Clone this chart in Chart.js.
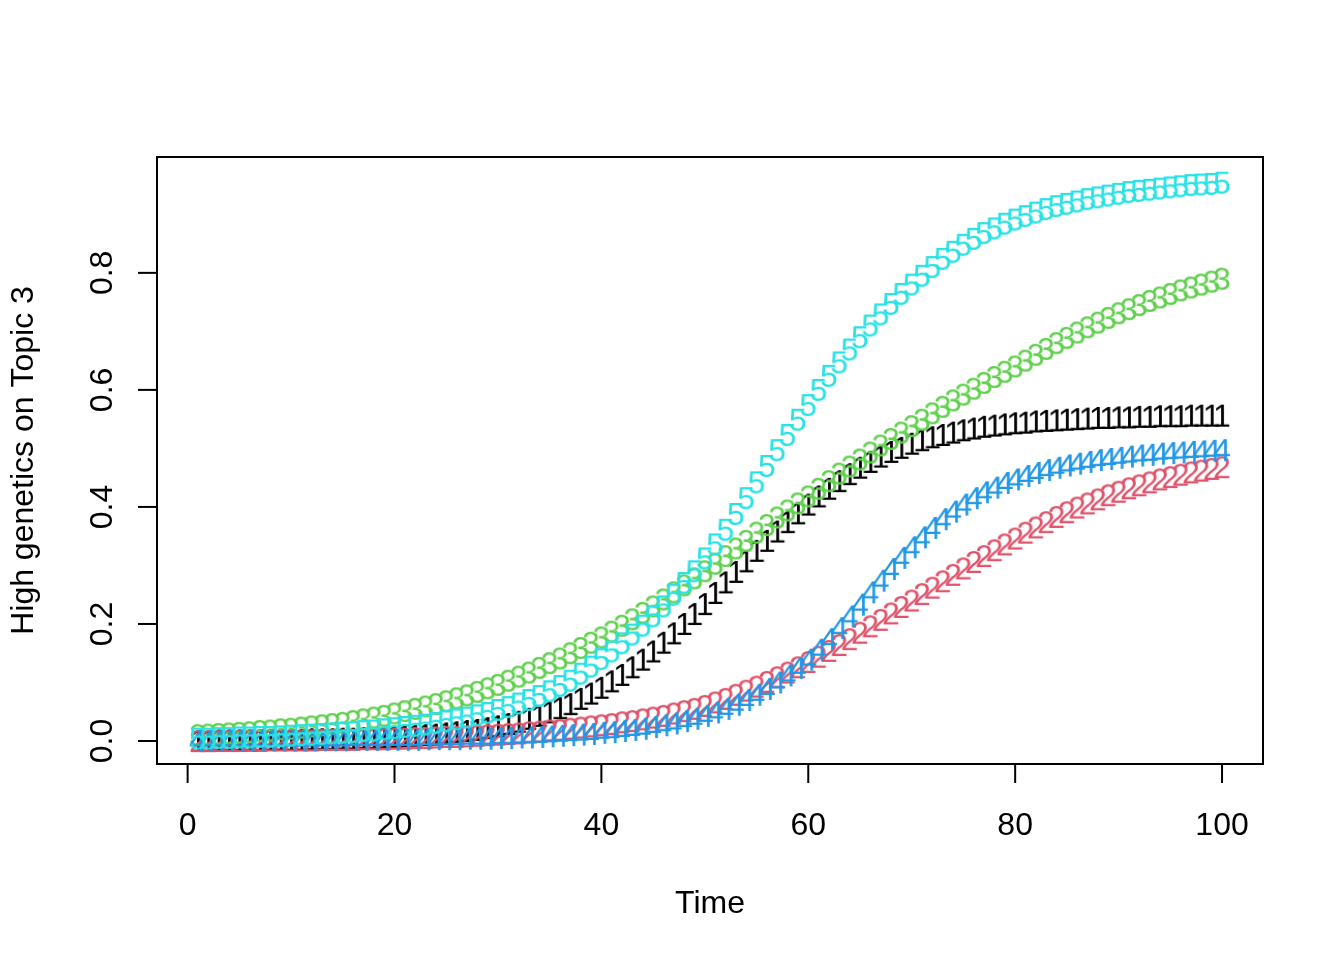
<!DOCTYPE html>
<html>
<head>
<meta charset="utf-8">
<script src="https://cdn.jsdelivr.net/npm/chart.js@4"></script>
<style>
  html, body { margin: 0; padding: 0; background: #fff; }
  #plot { display: block; }
</style>
</head>
<body>
<canvas id="plot" width="1344" height="960"></canvas>
<script>
// time steps 1..100
const timeSteps = Array.from({ length: 100 }, (_, i) => i + 1);

const xTicks = [0, 20, 40, 60, 80, 100];
const yTicks = [0, 0.2, 0.4, 0.6, 0.8];
const yTickLabels = ["0.0", "0.2", "0.4", "0.6", "0.8"];

const seriesNames = ["1", "2", "3", "4", "5"];
const seriesColors = ["#000000", "#DF536B", "#61D04F", "#2297E6", "#28E2E5"];

const series1 = [
  0.000, 0.000, 0.001, 0.001, 0.001, 0.001, 0.001, 0.002, 0.002, 0.002,
  0.002, 0.003, 0.003, 0.003, 0.004, 0.004, 0.005, 0.005, 0.006, 0.007,
  0.008, 0.009, 0.010, 0.011, 0.013, 0.015, 0.017, 0.019, 0.022, 0.025,
  0.029, 0.033, 0.038, 0.043, 0.049, 0.056, 0.063, 0.072, 0.081, 0.091,
  0.102, 0.113, 0.126, 0.139, 0.153, 0.168, 0.184, 0.200, 0.217, 0.234,
  0.253, 0.271, 0.289, 0.307, 0.325, 0.342, 0.358, 0.374, 0.389, 0.404,
  0.418, 0.431, 0.444, 0.456, 0.467, 0.477, 0.486, 0.494, 0.501, 0.508,
  0.514, 0.519, 0.523, 0.527, 0.531, 0.534, 0.537, 0.539, 0.541, 0.543,
  0.544, 0.546, 0.547, 0.548, 0.549, 0.550, 0.551, 0.552, 0.552, 0.553,
  0.553, 0.554, 0.554, 0.555, 0.555, 0.555, 0.556, 0.556, 0.556, 0.556
];

const series2 = [
  0.000, 0.000, 0.000, 0.000, 0.000, 0.001, 0.001, 0.001, 0.001, 0.001,
  0.001, 0.001, 0.002, 0.002, 0.002, 0.002, 0.003, 0.003, 0.003, 0.004,
  0.004, 0.005, 0.005, 0.006, 0.007, 0.007, 0.008, 0.009, 0.010, 0.011,
  0.012, 0.013, 0.015, 0.016, 0.018, 0.019, 0.021, 0.023, 0.025, 0.027,
  0.029, 0.032, 0.034, 0.037, 0.040, 0.043, 0.047, 0.051, 0.055, 0.060,
  0.066, 0.072, 0.079, 0.086, 0.093, 0.101, 0.109, 0.117, 0.126, 0.135,
  0.144, 0.154, 0.164, 0.174, 0.185, 0.196, 0.207, 0.218, 0.229, 0.240,
  0.251, 0.262, 0.273, 0.284, 0.295, 0.306, 0.316, 0.326, 0.336, 0.346,
  0.356, 0.365, 0.374, 0.383, 0.391, 0.399, 0.406, 0.413, 0.420, 0.426,
  0.432, 0.437, 0.442, 0.447, 0.451, 0.455, 0.459, 0.462, 0.465, 0.468
];

const series3 = [
  0.010, 0.011, 0.012, 0.013, 0.014, 0.015, 0.017, 0.018, 0.020, 0.021,
  0.023, 0.025, 0.027, 0.029, 0.031, 0.034, 0.037, 0.040, 0.043, 0.047,
  0.051, 0.055, 0.059, 0.063, 0.068, 0.073, 0.078, 0.084, 0.090, 0.096,
  0.103, 0.110, 0.117, 0.125, 0.133, 0.141, 0.150, 0.159, 0.168, 0.177,
  0.187, 0.197, 0.208, 0.219, 0.230, 0.242, 0.254, 0.266, 0.278, 0.290,
  0.303, 0.316, 0.329, 0.342, 0.356, 0.369, 0.382, 0.394, 0.406, 0.418,
  0.431, 0.444, 0.457, 0.469, 0.481, 0.493, 0.505, 0.516, 0.527, 0.538,
  0.549, 0.560, 0.571, 0.582, 0.592, 0.602, 0.612, 0.622, 0.631, 0.640,
  0.650, 0.660, 0.670, 0.680, 0.689, 0.698, 0.707, 0.715, 0.723, 0.731,
  0.738, 0.745, 0.752, 0.758, 0.764, 0.770, 0.775, 0.780, 0.785, 0.790
];

const series4 = [
  0.001, 0.001, 0.001, 0.001, 0.001, 0.001, 0.001, 0.001, 0.001, 0.001,
  0.001, 0.001, 0.001, 0.001, 0.001, 0.002, 0.002, 0.002, 0.002, 0.002,
  0.002, 0.002, 0.003, 0.003, 0.003, 0.003, 0.004, 0.004, 0.004, 0.005,
  0.005, 0.006, 0.006, 0.007, 0.008, 0.009, 0.010, 0.011, 0.012, 0.014,
  0.015, 0.017, 0.019, 0.021, 0.024, 0.027, 0.030, 0.034, 0.038, 0.043,
  0.049, 0.055, 0.062, 0.070, 0.079, 0.089, 0.100, 0.112, 0.125, 0.139,
  0.156, 0.174, 0.193, 0.213, 0.233, 0.254, 0.274, 0.294, 0.313, 0.331,
  0.348, 0.364, 0.379, 0.392, 0.404, 0.415, 0.425, 0.433, 0.441, 0.447,
  0.453, 0.458, 0.463, 0.467, 0.471, 0.474, 0.477, 0.480, 0.482, 0.484,
  0.486, 0.488, 0.489, 0.491, 0.492, 0.493, 0.494, 0.495, 0.496, 0.497
];

const series5 = [
  0.004, 0.004, 0.005, 0.005, 0.006, 0.006, 0.007, 0.007, 0.008, 0.009,
  0.010, 0.011, 0.012, 0.013, 0.014, 0.015, 0.017, 0.018, 0.020, 0.022,
  0.024, 0.026, 0.028, 0.031, 0.034, 0.037, 0.040, 0.044, 0.048, 0.053,
  0.058, 0.064, 0.070, 0.077, 0.085, 0.094, 0.103, 0.115, 0.127, 0.140,
  0.153, 0.167, 0.182, 0.197, 0.213, 0.230, 0.250, 0.270, 0.290, 0.312,
  0.336, 0.361, 0.388, 0.415, 0.442, 0.470, 0.497, 0.523, 0.549, 0.574,
  0.600, 0.624, 0.647, 0.669, 0.690, 0.710, 0.729, 0.747, 0.764, 0.780,
  0.795, 0.810, 0.824, 0.836, 0.848, 0.858, 0.868, 0.876, 0.884, 0.891,
  0.897, 0.903, 0.909, 0.914, 0.918, 0.922, 0.926, 0.929, 0.932, 0.935,
  0.938, 0.940, 0.942, 0.944, 0.946, 0.948, 0.950, 0.951, 0.952, 0.954
];

const allSeries = [series1, series2, series3, series4, series5];

const FONT = "32px 'Liberation Sans', Arial, Helvetica, sans-serif";
const FS = 32;

// character glyph used as the point marker (like pch = "1".."5")
function glyph(ch, color) {
  const c = document.createElement("canvas");
  c.width = 40;
  c.height = 40;
  const g = c.getContext("2d");
  g.font = FONT;
  g.fillStyle = color;
  g.textAlign = "center";
  g.textBaseline = "alphabetic";
  g.fillText(ch, 20, 20 + FS * 0.358);
  return c;
}

const datasets = allSeries.map((vals, i) => ({
  label: seriesNames[i],
  data: timeSteps.map((t, j) => ({ x: t, y: vals[j] })),
  pointStyle: glyph(seriesNames[i], seriesColors[i]),
  pointRadius: 3,
  pointHoverRadius: 3,
  showLine: false,
  borderColor: seriesColors[i],
  backgroundColor: seriesColors[i],
  order: 5 - i,
}));

const axesPlugin = {
  id: "baseAxes",
  afterDraw(chart) {
    const { ctx, chartArea: a } = chart;
    const xs = chart.scales.x;
    const ys = chart.scales.y;
    ctx.save();
    ctx.strokeStyle = "#000";
    ctx.lineWidth = 2;
    ctx.strokeRect(a.left, a.top, a.right - a.left, a.bottom - a.top);

    ctx.fillStyle = "#000";
    ctx.font = FONT;
    ctx.textAlign = "center";
    ctx.textBaseline = "alphabetic";

    xTicks.forEach((v) => {
      const px = xs.getPixelForValue(v);
      ctx.beginPath();
      ctx.moveTo(px, a.bottom);
      ctx.lineTo(px, a.bottom + 19);
      ctx.stroke();
      ctx.fillText(String(v), px, 835);
    });

    yTicks.forEach((v, i) => {
      const py = ys.getPixelForValue(v);
      ctx.beginPath();
      ctx.moveTo(a.left, py);
      ctx.lineTo(a.left - 19, py);
      ctx.stroke();
      ctx.save();
      ctx.translate(100, py);
      ctx.rotate(-Math.PI / 2);
      ctx.fillText(yTickLabels[i], 0, 12);
      ctx.restore();
    });

    ctx.fillText("Time", (a.left + a.right) / 2, 913);

    ctx.save();
    ctx.translate(25, (a.top + a.bottom) / 2);
    ctx.rotate(-Math.PI / 2);
    ctx.fillText("High genetics on Topic 3", 0, 8);
    ctx.restore();

    ctx.restore();
  },
};

new Chart(document.getElementById("plot"), {
  type: "scatter",
  data: { datasets },
  options: {
    responsive: false,
    animation: false,
    devicePixelRatio: 1,
    layout: { padding: { left: 157, right: 81, top: 157, bottom: 196 } },
    plugins: { legend: { display: false }, tooltip: { enabled: false } },
    scales: {
      x: { type: "linear", display: false, min: -2.96, max: 103.96 },
      y: { type: "linear", display: false, min: -0.0393, max: 0.998 },
    },
  },
  plugins: [axesPlugin],
});
</script>
</body>
</html>
